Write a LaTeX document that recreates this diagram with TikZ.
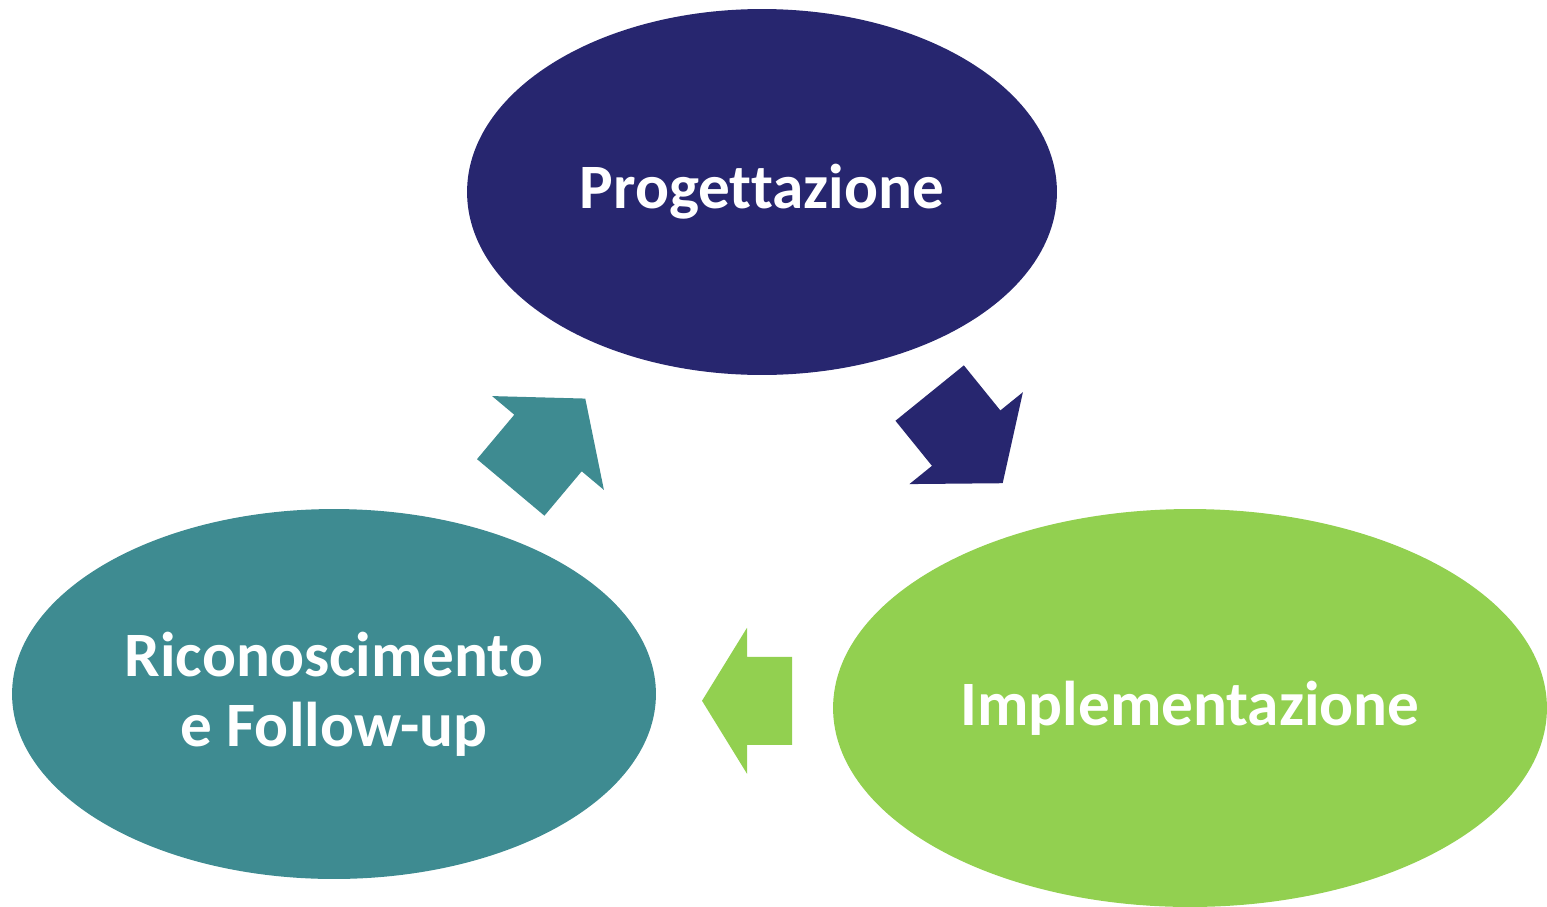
\documentclass[tikz,border=0pt]{standalone}
\usepackage{fontspec}
\setmainfont{Carlito}[RawFeature={-liga,-clig}]
\usetikzlibrary{
  shapes,  % Shape "ellipse"
  calc     % Calculations $...$
}
\definecolor{navyblue}{HTML}{27266F}
\definecolor{tealgreen}{HTML}{3E8B91}
\definecolor{leafgreen}{HTML}{92D050}
\tikzset{
  phase/.style={
    ellipse,
    inner sep=0mm,
    align=center,
    text=white,
    font=\fontsize{36}{40}\selectfont\bfseries
  },
  block arrow/.pic={
    \fill (-#1/2,-44) -- (0,-44) -- (0,-73) -- (#1/2,0)
       -- (0,73) -- (0,44) -- (-#1/2,44) -- cycle;
  }
}

\begin{document}
\begin{tikzpicture}[x=0.02cm,y=-0.02cm]
\useasboundingbox (0,0) rectangle (1547,906);
\node[phase,fill=navyblue,minimum width=11.8cm,minimum height=7.32cm] (prog) at (762,192) {Progettazione};
\node[phase,fill=leafgreen,minimum width=14.28cm,minimum height=7.96cm] (impl) at (1190,708) {Implementazione};
\node[phase,fill=tealgreen,minimum width=12.88cm,minimum height=7.4cm] (ricon) at (334,694) {Riconoscimento\\e Follow-up};
% arrows of the cycle
\pic[fill=navyblue,rotate=-51] at ($(prog)!0.477!(impl)$) {block arrow=116};
\pic[fill=leafgreen,rotate=180] at ($(impl)!0.5175!(ricon)$) {block arrow=90};
\pic[fill=tealgreen,rotate=50] at ($(ricon)!0.5!(prog)$) {block arrow=116};
\end{tikzpicture}
\end{document}
